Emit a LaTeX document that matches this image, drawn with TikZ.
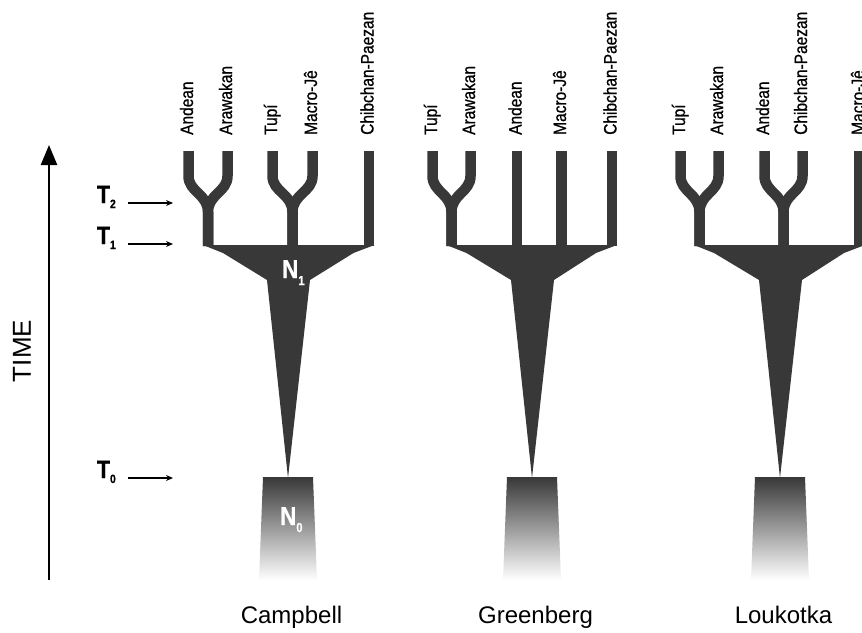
\documentclass[tikz,border=0pt]{standalone}
\usepackage{fontspec}
\setmainfont{Liberation Sans}
\newfontfamily\estreita{Liberation Sans}[FakeStretch=0.86, FakeBold=0.8]
\usetikzlibrary{arrows.meta}
\definecolor{cinza}{HTML}{383838}

\begin{document}
\begin{tikzpicture}[
  x=1pt, y=-1pt,
  ramo/.style={draw=cinza, line width=10.5pt},
  rotulo/.style={rotate=90, anchor=base west, inner sep=0pt, font=\estreita\fontsize{18}{18}\selectfont},
  marca/.style={anchor=base east, inner sep=0pt, font=\estreita\bfseries\fontsize{25}{25}\selectfont},
  nome/.style={anchor=base west, inner sep=0pt, text=white, font=\estreita\bfseries\fontsize{26}{26}\selectfont},
  autor/.style={anchor=base, inner sep=0pt, font=\fontsize{24}{24}\selectfont}
]
\tikzset{
  seta/.style={line width=1.3pt, -{Stealth[length=7pt,width=6pt]}},
  eixo/.style={line width=2.5pt, -{Triangle[length=20pt,width=16pt]}}
}
\useasboundingbox (0,0) rectangle (862,632);

% eixo do tempo
\coordinate (eixo-base) at (49,580);
\coordinate (eixo-topo) at (49,145);
\draw[eixo] (eixo-base) -- (eixo-topo);
\node[rotate=90, font=\fontsize{26}{26}\selectfont] (tempo) at (22,351) {TIME};

\foreach \k/\y in {2/203, 1/244, 0/478} {
  \node[marca] (t\k) at (116,\y) {T\raisebox{-5pt}{\fontsize{12}{12}\selectfont\k}};
  \coordinate (t\k-fim) at (173,\y);
  \draw[seta] ([xshift=12pt]t\k.base east) -- (t\k-fim);
}

% corpo de cada árvore: barra, tronco e base
\foreach \L/\R/\C in {203/374.5/288, 446.5/617/532, 694/865/780} {
  \fill[cinza] (\L,245) -- (\R,245) -- (\R-21,253) -- (\C+22,280) -- (\C,478)
    -- (\C-21,280) -- (\L+20,253) -- cycle;
  \shade[top color=cinza, bottom color=white] (\C-25,477) -- (\C+25,477)
    -- (\C+29,580) -- (\C-29,580) -- cycle;
}

% pares que se juntam em T2
\foreach \a/\m in {188.5/208, 272.5/292.5, 432.5/451.5, 680.5/699.5, 764.5/783.5} {
  \draw[ramo] (\a,151) -- (\a,176) .. controls (\a,192) and (\m,194) .. (\m,212) -- (\m,246);
  \draw[ramo] (2*\m-\a,151) -- (2*\m-\a,176) .. controls (2*\m-\a,192) and (\m,194) .. (\m,212) -- (\m,246);
}
\foreach \x in {369, 517, 561.5, 612, 859.5}
  \draw[ramo] (\x,151) -- (\x,246);

\foreach \x/\t/\n in {188.5/Andean/c-and, 227.5/Arawakan/c-ara, 272.5/Tupí/c-tup,
    312.5/Macro-Jê/c-mac, 369/Chibchan-Paezan/c-chi,
    432.5/Tupí/g-tup, 470.5/Arawakan/g-ara, 517/Andean/g-and,
    561.5/Macro-Jê/g-mac, 612/Chibchan-Paezan/g-chi,
    680.5/Tupí/l-tup, 718.5/Arawakan/l-ara, 764.5/Andean/l-and,
    802.5/Chibchan-Paezan/l-chi, 859.5/Macro-Jê/l-mac}
  \node[rotulo] (\n) at (\x+4.5,135) {\t};

\node[nome] (n1) at (282,278) {N\raisebox{-7pt}{\fontsize{13}{13}\selectfont 1}};
\node[nome] (n0) at (280,525) {N\raisebox{-7pt}{\fontsize{13}{13}\selectfont 0}};

\foreach \C/\t/\n in {288/Campbell/campbell, 532/Greenberg/greenberg, 780/Loukotka/loukotka}
  \node[autor] (\n) at (\C+3.5,623) {\t};
\end{tikzpicture}
\end{document}
